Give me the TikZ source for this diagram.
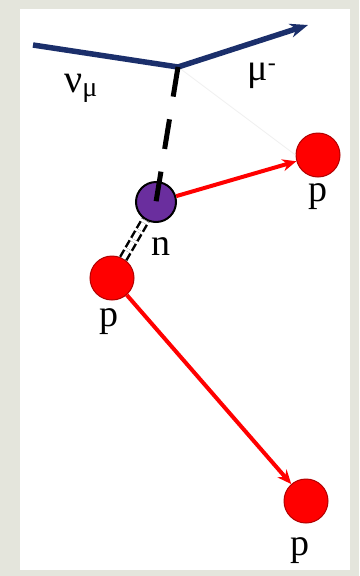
\documentclass[tikz,border=0pt]{standalone}
\usepackage{fontspec}
\setmainfont{Liberation Serif}
\usepackage{tikz}
\usetikzlibrary{arrows.meta}
\definecolor{navy}{HTML}{1B2F6B}
\definecolor{nred}{HTML}{FF0000}
\definecolor{purp}{HTML}{6A2E9E}
\definecolor{frame}{HTML}{E4E5DC}
\tikzset{proton/.style={circle,fill=nred,draw=red!70!black,line width=1pt,minimum size=44pt,inner sep=0pt},
lab/.style={font=\fontsize{38}{42}\selectfont,inner sep=0pt,anchor=base}}
\begin{document}
\begin{tikzpicture}[x=1pt,y=-1pt]
\fill[frame](0,0)rectangle(359,576);
\fill[white](20,9)rectangle(350,570);
\coordinate(V)at(178,67);
\coordinate(A)at(33,45);
\coordinate(B)at(308,25);
\node[circle,fill=purp,draw=black,line width=2pt,minimum size=40pt,inner sep=0pt](N)at(156,202){};
\node[proton](P1)at(318,155){};
\node[proton](P2)at(112,278){};
\node[proton](P3)at(306,501){};
\draw[gray!12,line width=0.8pt](V)--(P1.west);
\draw[navy,line width=5.5pt](A)--(V);
\draw[navy,line width=5.5pt,-{Stealth[length=18pt,width=14pt]}](V)--(B);
\draw[black,line width=5pt,dash pattern=on 30pt off 23pt](V)--(N.center);
\draw[black,line width=2.5pt,double=white,double distance=4.5pt,dash pattern=on 8pt off 3pt](P2)--(N);
\draw[nred,line width=4pt,-{Stealth[length=14pt,width=12pt]}](N)--(P1);
\draw[nred,line width=4pt,-{Stealth[length=14pt,width=12pt]}](P2)--(P3);
\node[lab,font=\fontsize{40}{44}\selectfont](nu)at(81,92){ν\textsubscript{\fontsize{28}{30}\selectfont μ}};
\node[lab,font=\fontsize{38}{42}\selectfont](mu)at(262,80){μ\textsuperscript{\fontsize{24}{26}\selectfont -}};
\node[lab](lP1)at(318,201){p};
\node[lab](lN)at(161,255){n};
\node[lab](lP2)at(109,326){p};
\node[lab](lP3)at(300,555){p};
\end{tikzpicture}
\end{document}
